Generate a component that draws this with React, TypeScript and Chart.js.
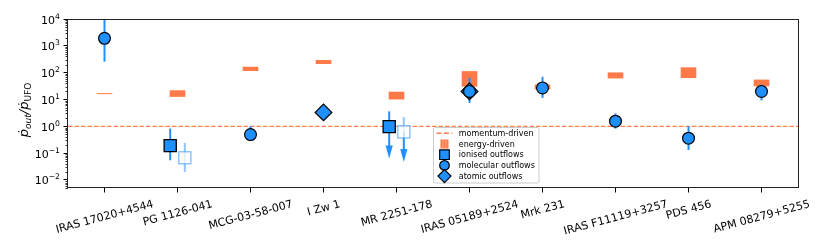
import { useEffect, useRef } from 'react';
import { Chart, registerables } from 'chart.js';

Chart.register(...registerables);

// ---------------- data ----------------
const categories = [
  'IRAS 17020+4544',
  'PG 1126-041',
  'MCG-03-58-007',
  'I Zw 1',
  'MR 2251-178',
  'IRAS 05189+2524',
  'Mrk 231',
  'IRAS F11119+3257',
  'PDS 456',
  'APM 08279+5255',
];

// energy-driven expectation range (low / high) per object
const energyLow = [15.8, 12.5, 115, 210, 10, 30, 24, 61, 63, 31];
const energyHigh = [17.2, 22, 166, 295, 19.5, 114, 36, 102, 158, 55];

const momentumLevel = 1;

// molecular outflows
const molecularIdx = [0, 2, 5, 6, 7, 8, 9];
const molecularVal = [1900, 0.49, 20, 27, 1.55, 0.36, 20];
const molecularLo = [257, 0.28, 7.4, 11.5, 0.82, 0.13, 9.3];
const molecularHi = [15000, 1.0, 64, 70, 3.0, 1.0, 36];

// ionised outflows (filled)
const ionisedIdx = [1, 4];
const ionisedVal = [0.19, 0.97];
const ionisedLo = [0.054, 0.063];
const ionisedHi = [0.82, 3.6];
const ionisedUpperLimit = [false, true];

// ionised outflows (open)
const ionisedOpenIdx = [1, 4];
const ionisedOpenVal = [0.067, 0.62];
const ionisedOpenLo = [0.02, 0.047];
const ionisedOpenHi = [0.24, 2.2];
const ionisedOpenUpperLimit = [false, true];

// atomic outflows
const atomicIdx = [3, 5];
const atomicVal = [3.3, 20];

const yTickValues = [1e-2, 1e-1, 1e0, 1e1, 1e2, 1e3, 1e4];
const yMin = 0.005;
const yMax = 1e4;

const legendLabels = [
  'momentum-driven',
  'energy-driven',
  'ionised outflows',
  'molecular outflows',
  'atomic outflows',
];

// ---------------- style ----------------
const BLUE = '#1E90FF';
const BLUE_LIGHT = 'rgba(30,144,255,0.5)';
const ORANGE = '#FF7A48';
const DASH_ORANGE = '#FF7F50';
const FONT = '"DejaVu Sans", sans-serif';
const SIDE_OFFSET = 0.1;
const ENERGY_HALF = 0.107;

function drawArrowDown(ctx: CanvasRenderingContext2D, px: number, yFrom: number, yTip: number, color: string) {
  const headLen = 13;
  const headHalf = 3.6;
  ctx.strokeStyle = color;
  ctx.fillStyle = color;
  ctx.lineWidth = 2;
  ctx.beginPath();
  ctx.moveTo(px, yFrom);
  ctx.lineTo(px, yTip - headLen + 1);
  ctx.stroke();
  ctx.beginPath();
  ctx.moveTo(px - headHalf, yTip - headLen);
  ctx.lineTo(px + headHalf, yTip - headLen);
  ctx.lineTo(px, yTip);
  ctx.closePath();
  ctx.fill();
}

const overlayPlugin = {
  id: 'overlay',
  beforeDatasetsDraw(chart: any) {
    const { ctx, chartArea: a, scales } = chart;
    const x = scales.x;
    const y = scales.y;
    ctx.save();
    ctx.beginPath();
    ctx.rect(a.left, a.top, a.right - a.left, a.bottom - a.top);
    ctx.clip();

    // energy-driven ranges
    ctx.fillStyle = ORANGE;
    categories.forEach((_, i) => {
      const x0 = x.getPixelForValue(i - ENERGY_HALF);
      const x1 = x.getPixelForValue(i + ENERGY_HALF);
      const y0 = y.getPixelForValue(energyHigh[i]);
      const y1 = y.getPixelForValue(energyLow[i]);
      ctx.fillRect(x0, y0, x1 - x0, y1 - y0);
    });

    // momentum-driven
    const ym = y.getPixelForValue(momentumLevel);
    ctx.strokeStyle = DASH_ORANGE;
    ctx.lineWidth = 1.2;
    ctx.setLineDash([4.5, 2]);
    ctx.beginPath();
    ctx.moveTo(a.left, ym);
    ctx.lineTo(a.right, ym);
    ctx.stroke();
    ctx.setLineDash([]);

    const bar = (px: number, v1: number, v2: number, color: string) => {
      ctx.strokeStyle = color;
      ctx.lineWidth = 2;
      ctx.beginPath();
      ctx.moveTo(px, y.getPixelForValue(v1));
      ctx.lineTo(px, y.getPixelForValue(v2));
      ctx.stroke();
    };

    molecularIdx.forEach((c, k) => {
      bar(x.getPixelForValue(c), molecularLo[k], molecularHi[k], BLUE);
    });
    ionisedIdx.forEach((c, k) => {
      const px = x.getPixelForValue(c - SIDE_OFFSET);
      if (ionisedUpperLimit[k]) {
        bar(px, ionisedVal[k], ionisedHi[k], BLUE);
        drawArrowDown(ctx, px, y.getPixelForValue(ionisedVal[k]), y.getPixelForValue(ionisedLo[k]), BLUE);
      } else {
        bar(px, ionisedLo[k], ionisedHi[k], BLUE);
      }
    });
    ionisedOpenIdx.forEach((c, k) => {
      const px = x.getPixelForValue(c + SIDE_OFFSET);
      if (ionisedOpenUpperLimit[k]) {
        bar(px, ionisedOpenVal[k], ionisedOpenHi[k], BLUE_LIGHT);
        drawArrowDown(ctx, px, y.getPixelForValue(ionisedOpenVal[k]), y.getPixelForValue(ionisedOpenLo[k]), BLUE);
      } else {
        bar(px, ionisedOpenLo[k], ionisedOpenHi[k], BLUE_LIGHT);
      }
    });
    ctx.restore();
  },
  afterDraw(chart: any) {
    const { ctx, chartArea: a, scales } = chart;
    const x = scales.x;
    const y = scales.y;
    ctx.save();

    // minor log ticks
    ctx.strokeStyle = '#000';
    ctx.lineWidth = 0.8;
    for (let d = -3; d <= 4; d++) {
      for (let m = 2; m <= 9; m++) {
        const v = m * Math.pow(10, d);
        if (v < yMin || v > yMax) continue;
        const py = Math.round(y.getPixelForValue(v)) + 0.5;
        ctx.beginPath();
        ctx.moveTo(a.left, py);
        ctx.lineTo(a.left - 2.5, py);
        ctx.stroke();
      }
    }

    // frame
    ctx.strokeStyle = '#222';
    ctx.lineWidth = 1;
    ctx.strokeRect(Math.round(a.left) - 0.5, Math.round(a.top) + 0.5, Math.round(a.right - a.left) + 1, Math.round(a.bottom - a.top) - 1);

    // y tick labels with true superscripts
    ctx.fillStyle = '#000';
    ctx.textBaseline = 'alphabetic';
    ctx.textAlign = 'left';
    yTickValues.forEach((v) => {
      const e = Math.round(Math.log10(v));
      const expStr = e < 0 ? '\u2212' + String(-e) : String(e);
      const py = y.getPixelForValue(v);
      ctx.font = `7.7px ${FONT}`;
      const we = ctx.measureText(expStr).width;
      ctx.font = `11px ${FONT}`;
      const wb = ctx.measureText('10').width;
      const right = a.left - 8;
      const base = py + 4.5;
      ctx.fillText('10', right - we - wb, base);
      ctx.font = `7.7px ${FONT}`;
      ctx.fillText(expStr, right - we, base - 5);
    });

    // x tick labels (rotated, centred)
    const fs = 11;
    const rot = (15 * Math.PI) / 180;
    ctx.font = `${fs}px ${FONT}`;
    ctx.fillStyle = '#000';
    ctx.textAlign = 'center';
    ctx.textBaseline = 'alphabetic';
    categories.forEach((lab, i) => {
      const w = ctx.measureText(lab).width;
      const h = fs * 1.164;
      const span = w * Math.sin(rot) + h * Math.cos(rot);
      const cx = x.getPixelForValue(i);
      const cy = a.bottom + 9 + span / 2;
      ctx.save();
      ctx.translate(cx, cy);
      ctx.rotate(-rot);
      ctx.fillText(lab, 0, 0.346 * fs);
      ctx.restore();
    });

    // y title: p-dot_out / p-dot_UFO
    const segs: [string, string, number][] = [
      ['\u1E57', `italic 13px ${FONT}`, 0],
      ['out', `italic 9px ${FONT}`, 2.8],
      ['/', `italic 13px ${FONT}`, 0],
      ['\u1E57', `italic 13px ${FONT}`, 0],
      ['UFO', `9px ${FONT}`, 2.8],
    ];
    let total = 0;
    segs.forEach(([t, f]) => { ctx.font = f; total += ctx.measureText(t).width; });
    ctx.save();
    ctx.translate(28, 110 + total / 2);
    ctx.rotate(-Math.PI / 2);
    ctx.textAlign = 'left';
    let pos = 0;
    segs.forEach(([t, f, dy]) => {
      ctx.font = f;
      ctx.fillText(t, pos, dy);
      pos += ctx.measureText(t).width;
    });
    ctx.restore();

    // legend
    const L = { left: 433.5, top: 127.5, right: 539, bottom: 183 };
    ctx.fillStyle = 'rgba(255,255,255,0.8)';
    ctx.strokeStyle = '#cccccc';
    ctx.lineWidth = 1;
    ctx.beginPath();
    (ctx as any).roundRect(L.left, L.top, L.right - L.left, L.bottom - L.top, 2);
    ctx.fill();
    ctx.stroke();
    const hx = 444.5;
    const rows = [133.3, 144, 154.7, 165.4, 176.1];
    // momentum-driven handle
    ctx.strokeStyle = DASH_ORANGE;
    ctx.lineWidth = 1.5;
    ctx.setLineDash([5, 2.5]);
    ctx.beginPath();
    ctx.moveTo(436.5, rows[0]);
    ctx.lineTo(452.5, rows[0]);
    ctx.stroke();
    ctx.setLineDash([]);
    // energy-driven handle
    ctx.fillStyle = ORANGE;
    ctx.fillRect(hx - 4, rows[1] - 4.5, 8, 9);
    ctx.strokeStyle = 'rgba(255,190,160,0.9)';
    ctx.lineWidth = 0.8;
    [hx - 1.5, hx + 1.5].forEach((lx) => {
      ctx.beginPath();
      ctx.moveTo(lx, rows[1] - 4);
      ctx.lineTo(lx, rows[1] + 4);
      ctx.stroke();
    });
    // markers
    ctx.fillStyle = BLUE;
    ctx.strokeStyle = '#000';
    ctx.lineWidth = 1.2;
    ctx.beginPath();
    ctx.rect(hx - 4.8, rows[2] - 4.8, 9.6, 9.6);
    ctx.fill();
    ctx.stroke();
    ctx.beginPath();
    ctx.arc(hx, rows[3], 4.8, 0, Math.PI * 2);
    ctx.fill();
    ctx.stroke();
    ctx.beginPath();
    ctx.moveTo(hx, rows[4] - 6.5);
    ctx.lineTo(hx + 6.5, rows[4]);
    ctx.lineTo(hx, rows[4] + 6.5);
    ctx.lineTo(hx - 6.5, rows[4]);
    ctx.closePath();
    ctx.fill();
    ctx.stroke();
    // legend text
    ctx.fillStyle = '#000';
    ctx.font = `8px ${FONT}`;
    ctx.textAlign = 'left';
    ctx.textBaseline = 'middle';
    legendLabels.forEach((t, i) => ctx.fillText(t, 458.8, rows[i] + 0.5));

    ctx.restore();
  },
};

export default function App() {
  const canvasRef = useRef<HTMLCanvasElement | null>(null);

  useEffect(() => {
    const canvas = canvasRef.current;
    if (!canvas) return;
    const chart = new Chart(canvas, {
      type: 'scatter',
      data: {
        datasets: [
          {
            label: 'molecular outflows',
            data: molecularIdx.map((c, k) => ({ x: c, y: molecularVal[k] })),
            pointStyle: 'circle',
            pointRadius: 5.9,
            backgroundColor: BLUE,
            borderColor: '#000',
            borderWidth: 1.2,
          },
          {
            label: 'atomic outflows',
            data: atomicIdx.map((c, k) => ({ x: c, y: atomicVal[k] })),
            pointStyle: 'rectRot',
            pointRadius: 8.3,
            backgroundColor: BLUE,
            borderColor: '#000',
            borderWidth: 1.3,
          },
          {
            label: 'ionised outflows',
            data: ionisedIdx.map((c, k) => ({ x: c - SIDE_OFFSET, y: ionisedVal[k] })),
            pointStyle: 'rect',
            pointRadius: 8.6,
            backgroundColor: BLUE,
            borderColor: '#000',
            borderWidth: 1.3,
          },
          {
            label: 'ionised outflows (open)',
            data: ionisedOpenIdx.map((c, k) => ({ x: c + SIDE_OFFSET, y: ionisedOpenVal[k] })),
            pointStyle: 'rect',
            pointRadius: 8.6,
            backgroundColor: 'rgba(255,255,255,0.75)',
            borderColor: BLUE_LIGHT,
            borderWidth: 1.5,
          },
        ],
      },
      options: {
        responsive: false,
        animation: false,
        events: [],
        layout: { padding: { left: 0, top: 19, right: 32, bottom: 0 } },
        plugins: { legend: { display: false }, tooltip: { enabled: false } },
        scales: {
          x: {
            type: 'linear',
            min: -0.5,
            max: 9.5,
            afterBuildTicks: (axis: any) => {
              axis.ticks = categories.map((_, i) => ({ value: i }));
            },
            afterFit: (scale: any) => {
              scale.height = 61;
            },
            ticks: { display: false },
            grid: { drawOnChartArea: false, drawTicks: true, tickLength: 4.5, color: '#000', lineWidth: 1 },
            border: { display: false },
          },
          y: {
            type: 'logarithmic',
            min: yMin,
            max: yMax,
            afterBuildTicks: (axis: any) => {
              axis.ticks = yTickValues.map((v) => ({ value: v }));
            },
            afterFit: (scale: any) => {
              scale.width = 68;
            },
            ticks: { display: false },
            grid: { drawOnChartArea: false, drawTicks: true, tickLength: 4.5, color: '#000', lineWidth: 1 },
            border: { display: false },
          },
        },
      },
      plugins: [overlayPlugin],
    });
    return () => chart.destroy();
  }, []);

  return (
    <div style={{ position: 'fixed', left: 0, top: 0, width: 830, height: 249, background: '#fff' }}>
      <canvas ref={canvasRef} width={830} height={249} style={{ display: 'block' }} />
    </div>
  );
}
